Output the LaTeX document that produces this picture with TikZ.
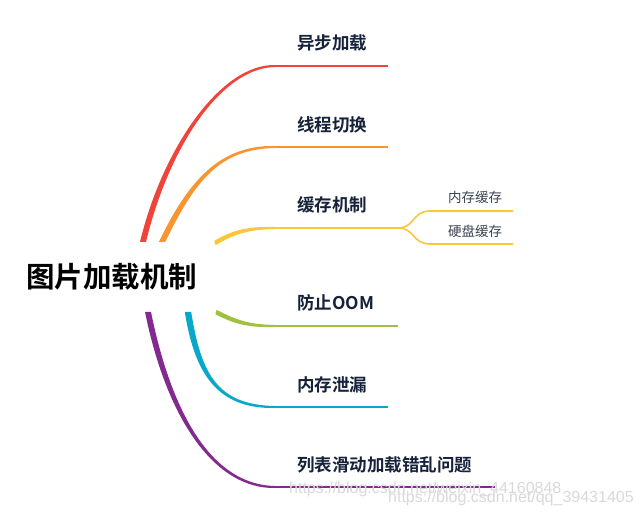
\documentclass[tikz,border=0pt]{standalone}
\usepackage{fontspec}
\newfontfamily\cjk{Noto Sans CJK SC}
\newfontfamily\cjkb{Noto Sans CJK SC Bold}
\newfontfamily\wmfont{Liberation Sans}
\usetikzlibrary{calc}
\definecolor{cred}{HTML}{F0443A}
\definecolor{corange}{HTML}{F7962F}
\definecolor{cyellow}{HTML}{FCC63A}
\definecolor{cgreen}{HTML}{A0C040}
\definecolor{ccyan}{HTML}{08A8CB}
\definecolor{cpurple}{HTML}{84298F}
\definecolor{ctext}{HTML}{16213A}
\definecolor{csub}{HTML}{3A4350}
% #1 colour, #2..#5 curve points, #6 start offset, #7 second control offset, #8 end offset
\newcommand\branchfill[8]{%
  \fill[#1] ($(#2)+(#6)$) .. controls ($(#3)+(#6)$) and ($(#4)+(#7)$) .. ($(#5)+(#8)$)
    -- ($(#5)-(#8)$) .. controls ($(#4)-(#7)$) and ($(#3)-(#6)$) .. ($(#2)-(#6)$) -- cycle;}
\begin{document}
\begin{tikzpicture}[x=1pt,y=-1pt,
  hline/.style={line width=2pt},
  subline/.style={line width=1.6pt, cyellow},
  maintext/.style={font=\cjkb\fontsize{28.5}{31}\selectfont, text=black, inner sep=0pt},
  btext/.style={font=\cjkb\fontsize{17.5}{20}\selectfont, text=ctext, anchor=west, inner sep=0pt},
  stext/.style={font=\cjk\fontsize{13.5}{16}\selectfont, text=csub, anchor=west, inner sep=0pt},
  wm/.style={font=\wmfont\fontsize{16}{18}\selectfont, text=gray!30, anchor=west, inner sep=0pt}]
\useasboundingbox[fill=white] (0,0) rectangle (641,516);

% central topic
\node[maintext] (root) at (112,277) {图片加载机制};

% coordinates
\coordinate (r0) at (143,242); \coordinate (r1) at (165,150); \coordinate (r2) at (220,66); \coordinate (r3) at (275,66); \coordinate (r4) at (388,66);
\coordinate (o0) at (162,242); \coordinate (o1) at (192,180); \coordinate (o2) at (220,147); \coordinate (o3) at (275,147); \coordinate (o4) at (388,147);
\coordinate (y0) at (215,243); \coordinate (y1) at (235,231); \coordinate (y2) at (250,228); \coordinate (y3) at (275,228); \coordinate (y4) at (398,228);
\coordinate (g0) at (216,312); \coordinate (g1) at (237,323); \coordinate (g2) at (250,326); \coordinate (g3) at (275,326); \coordinate (g4) at (398,326);
\coordinate (c0) at (188,312); \coordinate (c1) at (198,375); \coordinate (c2) at (218,407); \coordinate (c3) at (275,407); \coordinate (c4) at (388,407);
\coordinate (p0) at (148,312); \coordinate (p1) at (170,420); \coordinate (p2) at (215,487); \coordinate (p3) at (275,487); \coordinate (p4) at (495,487);

% tapered branches
\branchfill{cred}{r0}{r1}{r2}{r3}{3,0}{0,2}{0,1}
\branchfill{corange}{o0}{o1}{o2}{o3}{3.2,0}{0,2}{0,1}
\branchfill{cyellow}{y0}{y1}{y2}{y3}{0.6,2.2}{0,1.5}{0,1}
\branchfill{cgreen}{g0}{g1}{g2}{g3}{-0.6,2.2}{0,1.5}{0,1}
\branchfill{ccyan}{c0}{c1}{c2}{c3}{3.2,0}{0,-2}{0,-1}
\branchfill{cpurple}{p0}{p1}{p2}{p3}{3,0}{0,-2}{0,-1}

% horizontal underlines
\draw[hline, cred] (r3) -- (r4);
\draw[hline, corange] (o3) -- (o4);
\draw[hline, cyellow] (y3) -- (y4);
\draw[hline, cgreen] (g3) -- (g4);
\draw[hline, ccyan] (c3) -- (c4);
\draw[hline, cpurple] (p3) -- (p4);

% branch labels
\node[btext] (b1) at (297,43) {异步加载};
\node[btext] (b2) at (297,125) {线程切换};
\node[btext] (b3) at (297,205) {缓存机制};
\node[btext] (b4) at (297,303) {防止OOM};
\node[btext] (b5) at (297,385) {内存泄漏};
\node[btext] (b6) at (297,465) {列表滑动加载错乱问题};

% sub-branches of cache
\coordinate (s1a) at (430,211); \coordinate (s1b) at (513,211);
\coordinate (s2a) at (430,244); \coordinate (s2b) at (513,244);
\draw[subline] (y4) .. controls (415,228) and (412,211) .. (s1a) -- (s1b);
\draw[subline] (y4) .. controls (415,228) and (412,244) .. (s2a) -- (s2b);
\node[stext] (n1) at (448,197) {内存缓存};
\node[stext] (n2) at (448,231) {硬盘缓存};

% watermarks
\node[wm] (w1) at (289,489) {https://blog.csdn.net/weixin\_44160848};
\node[wm] (w2) at (388,498) {https://blog.csdn.net/qq\_39431405};
\end{tikzpicture}
\end{document}
